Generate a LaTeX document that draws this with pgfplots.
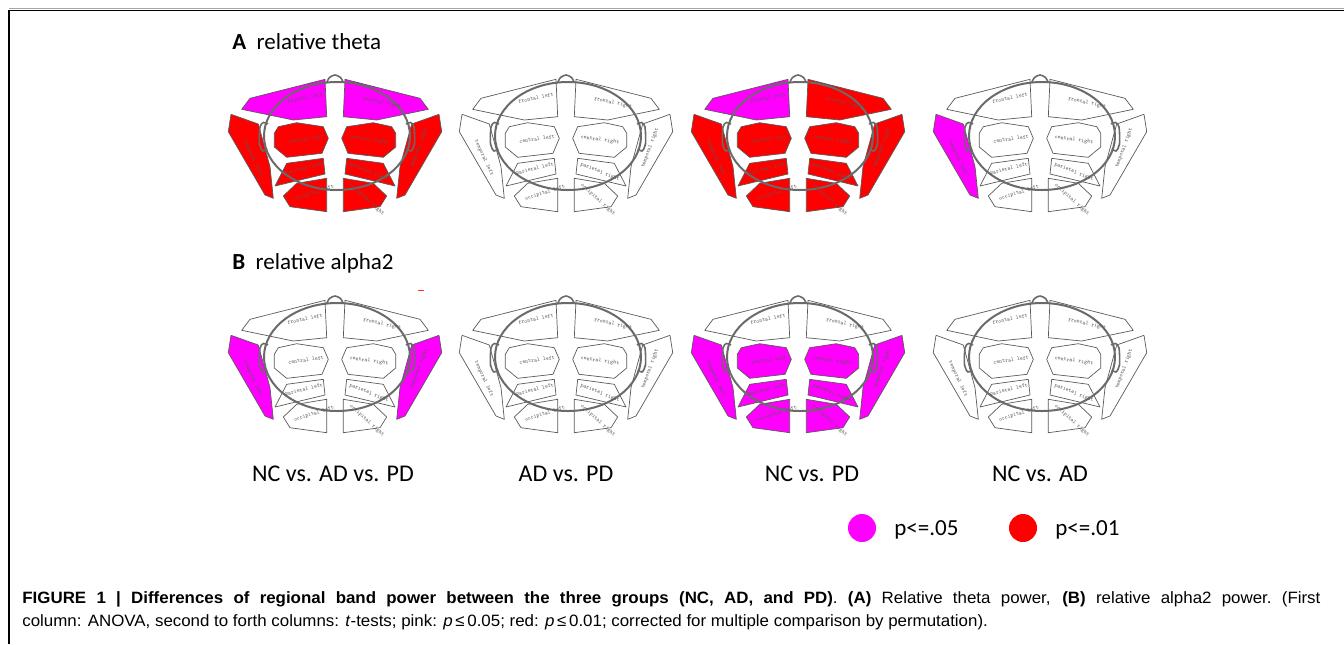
\documentclass[border=0pt]{standalone}
\usepackage{pgfplots}
\pgfplotsset{compat=1.18}
\usepackage{pgfplotstable}
\usepackage{fontspec}
\setmainfont{Carlito}
\newfontfamily\capfont[FakeStretch=1.03]{Liberation Sans}
\definecolor{pinkc}{HTML}{FF00FF}
\definecolor{redc}{HTML}{FF0000}
\definecolor{rgn}{HTML}{5A5A5A}
\definecolor{headc}{HTML}{6A6A6A}

% region outlines, left hemisphere, local coordinates (pixels, y up)
\pgfplotstableread{
x y
-85 37.7
-10 56.7
-8.3 19.3
-41.7 16
-93.3 26.7
-85 37.7
}\FL
\pgfplotstableread{
x y
-104 21.7
-76.7 12
-65 -30.7
-61.7 -62.3
-70 -59
-106.7 4.3
-104 21.7
}\TL
\pgfplotstableread{
x y
-56.7 9.3
-38.3 13.3
-11.7 9.3
-6.7 -2.3
-13 -17.3
-48.3 -21.3
-60.7 -11
-60.7 2.7
-56.7 9.3
}\CL
\pgfplotstableread{
x y
-60 -50
-48.3 -27.3
-11.7 -22.3
-10 -38
-60 -50
}\PL
\pgfplotstableread{
x y
-38.3 -47.3
-8.3 -42.3
-8.3 -75.7
-45 -70.7
-51.7 -60
-38.3 -47.3
}\OL

\newcommand\rL[2]{\addplot[draw=rgn,line width=0.35pt,fill=#1,line join=round] table[x=x,y=y]{#2};}
\newcommand\rR[2]{\addplot[draw=rgn,line width=0.35pt,fill=#1,line join=round] table[x expr=-\thisrow{x},y=y]{#2};}
\newcommand\lab[4]{\node[font=\fontsize{2.8}{3}\selectfont\ttfamily,text=black!65,rotate=#3,inner sep=0pt] at (axis cs:#1,#2) {#4};}

\newcommand\headaxis[8]{%
\begin{axis}[at={({#1*0.5pt},{-#2*0.5pt})},anchor=center,scale only axis,
  width=120pt,height=80pt,xmin=-120,xmax=120,ymin=-80,ymax=80,
  axis lines=none,clip=false,no markers]
\rL{#3}{\FL}\rR{#4}{\FL}
\rL{#5}{\TL}\rR{#6}{\TL}
\rL{#7}{\CL}\rL{#7}{\PL}\rL{#7}{\OL}
\rR{#8}{\CL}\rR{#8}{\PL}\rR{#8}{\OL}
\draw[headc,line width=1pt] (axis cs:2,0) ellipse [x radius=36.5pt,y radius=27pt];
\addplot[headc,line width=0.8pt,smooth] coordinates {(-8.3,53.3)(-5.5,58.5)(0,61)(5.5,58.5)(8.3,53.3)};
\addplot[headc,line width=0.8pt,smooth] coordinates {(-67,12)(-71.5,13.5)(-75,9)(-75.5,-8)(-72,-15)(-68,-13)};
\addplot[headc,line width=0.8pt,smooth] coordinates {(71,12)(75.5,13.5)(79,9)(79.5,-8)(76,-15)(72,-13)};
\lab{-30}{38}{12}{frontal left}
\lab{47}{33}{-12}{frontal right}
\lab{-29}{-3}{8}{central left}
\lab{34}{-4}{-8}{central right}
\lab{-82}{-22}{-65}{temporal left}
\lab{84}{-12}{70}{temporal right}
\lab{-31}{-33}{14}{parietal left}
\lab{34}{-36}{-22}{parietal right}
\lab{-21}{-57}{18}{occipital left}
\lab{32}{-64}{-42}{occipital right}
\end{axis}}

\begin{document}
\begin{tikzpicture}
\begin{scope}[x=0.5pt,y=-0.5pt]
\path[use as bounding box] (0,0) rectangle (1344,644);
\draw[black!35,line width=0.4pt] (9,8.6) -- (1344,8.6);
\draw[black,line width=0.6pt] (9,644) -- (9,10.2) -- (1344,10.2);
% panel titles
\node[anchor=base west,inner sep=0pt,font=\fontsize{11.5}{13}\selectfont] at (232,49) {\textbf{A}\hspace{0.45em}relative theta};
\node[anchor=base west,inner sep=0pt,font=\fontsize{11.5}{13}\selectfont] at (232,269) {\textbf{B}\hspace{0.45em}relative alpha2};
\draw[red!80,line width=0.5pt] (418,290.5) -- (424,290.5);
% column labels
\foreach \cx/\t in {333/NC vs. AD vs. PD,566/AD vs. PD,812/NC vs. PD,1040/NC vs. AD}
  \node[anchor=base,inner sep=0pt,font=\fontsize{12}{14}\selectfont] at (\cx,481) {\t};
% legend
\fill[pinkc] (862,528) circle [radius=7pt];
\fill[redc] (1023,528) circle [radius=7pt];
\node[anchor=base west,inner sep=0pt,font=\fontsize{11.5}{13}\selectfont] at (894,535.5) {p<=.05};
\node[anchor=base west,inner sep=0pt,font=\fontsize{11.5}{13}\selectfont] at (1055,535.5) {p<=.01};
% caption
\node[anchor=base west,inner sep=0pt,font=\capfont\fontsize{8.2}{9}\selectfont] at (22,603) {\hbox to 649pt{\textbf{FIGURE 1 | Differences of regional band power between the three groups (NC, AD, and PD)}. \textbf{(A)} Relative theta power, \textbf{(B)} relative alpha2 power.\ (First}};
\node[anchor=base west,inner sep=0pt,font=\capfont\fontsize{8.2}{9}\selectfont] at (22,626) {column: ANOVA, second to forth columns: \textit{t}-tests; pink: \textit{p}\,≤\,0.05; red: \textit{p}\,≤\,0.01; corrected for multiple comparison by permutation).};
\end{scope}
\headaxis{335}{136}{pinkc}{pinkc}{redc}{redc}{redc}{redc}
\headaxis{566}{136}{white}{white}{white}{white}{white}{white}
\headaxis{798}{136}{pinkc}{redc}{redc}{redc}{redc}{redc}
\headaxis{1040}{136}{white}{white}{pinkc}{white}{white}{white}
\headaxis{335}{357}{white}{white}{pinkc}{pinkc}{white}{white}
\headaxis{566}{357}{white}{white}{white}{white}{white}{white}
\headaxis{798}{357}{white}{white}{pinkc}{pinkc}{pinkc}{pinkc}
\headaxis{1040}{357}{white}{white}{white}{white}{white}{white}
\end{tikzpicture}
\end{document}
